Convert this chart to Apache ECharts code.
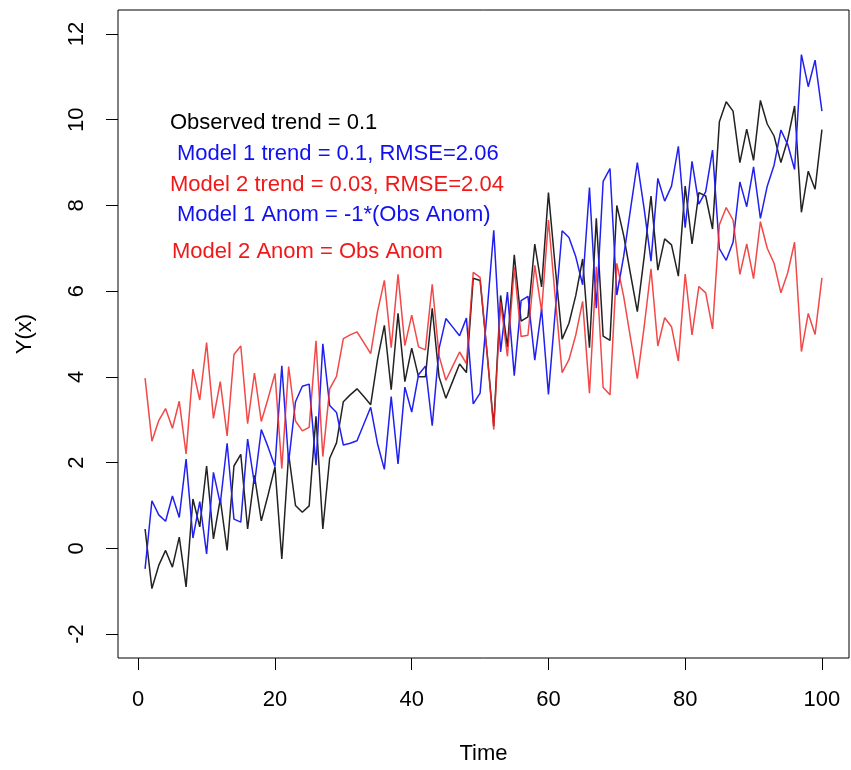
<!DOCTYPE html>
<html>
<head>
<meta charset="utf-8">
<script src="https://cdn.jsdelivr.net/npm/echarts@6/dist/echarts.min.js"></script>
<style>html,body{margin:0;padding:0;background:#fff}#c{width:851px;height:770px}</style>
</head>
<body>
<div id="c"></div>
<script>
// ---- data ----
const time = [1,2,3,4,5,6,7,8,9,10,11,12,13,14,15,16,17,18,19,20,21,22,23,24,25,26,27,28,29,30,31,32,33,34,35,36,37,38,39,40,41,42,43,44,45,46,47,48,49,50,51,52,53,54,55,56,57,58,59,60,61,62,63,64,65,66,67,68,69,70,71,72,73,74,75,76,77,78,79,80,81,82,83,84,85,86,87,88,89,90,91,92,93,94,95,96,97,98,99,100];
const observed = [0.45,-0.94,-0.4,-0.05,-0.44,0.26,-0.9,1.15,0.5,1.92, 0.22,1.15,-0.05,1.92,2.19,0.45,1.7,0.64,1.25,1.9, -0.25,2.2,1.0,0.84,0.99,3.08,0.45,2.1,2.46,3.42, 3.58,3.72,3.54,3.35,4.4,5.2,3.7,5.48,3.89,4.67, 4.0,4.0,5.6,4.0,3.5,3.9,4.3,4.1,6.3,6.25, 4.6,2.85,5.9,4.7,6.85,5.3,5.4,7.1,6.1,8.3, 6.55,4.88,5.25,5.9,6.75,4.68,7.7,4.95,4.85,8.0, 7.3,6.4,5.52,6.8,8.22,6.49,7.22,7.08,6.35,8.45, 7.1,8.3,8.22,7.45,9.95,10.42,10.2,9.0,9.78,9.05, 10.45,9.9,9.62,9.0,9.54,10.32,7.84,8.8,8.38,9.77];
const model1 = [-0.48,1.11,0.78,0.63,1.22,0.72,2.08,0.24,1.09,-0.13, 1.77,1.04,2.45,0.68,0.61,2.55,1.5,2.77,2.36,1.91, 4.26,2.01,3.42,3.78,3.83,1.94,4.77,3.33,3.17,2.41, 2.45,2.51,2.9,3.29,2.44,1.84,3.54,1.97,3.76,3.18, 4.05,4.25,2.86,4.66,5.36,5.16,4.96,5.37,3.37,3.62, 5.47,7.42,4.58,5.98,4.03,5.78,5.88,4.39,5.59,3.59, 5.54,7.41,7.25,6.8,6.15,8.42,5.6,8.56,8.86,5.91, 6.81,7.91,9.0,7.92,6.7,8.63,8.1,8.45,9.38,7.48, 9.03,8.03,8.32,9.29,6.99,6.72,7.14,8.55,7.97,8.9, 7.7,8.45,8.94,9.76,9.42,8.84,11.52,10.77,11.39,10.2];
const model2 = [3.97,2.5,2.98,3.26,2.8,3.43,2.2,4.18,3.46,4.8, 3.03,3.89,2.62,4.52,4.72,2.91,4.09,2.96,3.5,4.08, 1.86,4.24,2.97,2.74,2.82,4.84,2.14,3.72,4.01,4.89, 4.98,5.05,4.8,4.54,5.52,6.25,4.68,6.39,4.73,5.44, 4.7,4.63,6.16,4.49,3.92,4.25,4.58,4.31,6.44,6.32, 4.59,2.77,5.75,4.48,6.56,4.94,4.97,6.6,5.53,7.66, 5.84,4.1,4.4,4.98,5.76,3.62,6.57,3.75,3.58,6.65, 5.88,4.91,3.96,5.17,6.52,4.72,5.38,5.17,4.37,6.4, 4.98,6.11,5.96,5.12,7.55,7.95,7.66,6.39,7.1,6.29, 7.62,7.0,6.65,5.96,6.43,7.14,4.59,5.48,4.99,6.31];
const xTicks = [0,20,40,60,80,100];
const yTicks = [-2,0,2,4,6,8,10,12];
const notes = ['Observed trend = 0.1','Model 1 trend = 0.1, RMSE=2.06','Model 2 trend = 0.03, RMSE=2.04','Model 1 Anom = -1*(Obs Anom)','Model 2 Anom = Obs Anom'];

// ---- chart ----
const FONT = 'Liberation Sans, Arial, sans-serif';
const chart = echarts.init(document.getElementById('c'), null, {renderer:'canvas', width:851, height:770});
const pair = arr => arr.map((v,i)=>[time[i], v]);
const noteColors = ['#000000','#1010F0','#F01818','#1010F0','#F01818'];
const noteX = [170,177,170,177,172];
const noteY = [123,154,185,215,252];
chart.setOption({
  animation:false,
  backgroundColor:'#ffffff',
  grid:{left:118, top:10, width:731, height:651, show:true, borderColor:'#000', borderWidth:1, containLabel:false},
  xAxis:{type:'value', min:-2.96, max:103.96, position:'bottom',
    name:'Time', nameLocation:'middle', nameGap:85,
    nameTextStyle:{fontSize:22, color:'#000', fontFamily:FONT},
    axisLine:{show:false, onZero:false}, splitLine:{show:false},
    axisTick:{show:true, inside:false, length:12, customValues:xTicks, lineStyle:{color:'#000'}},
    axisLabel:{customValues:xTicks, fontSize:22, margin:31, color:'#000', fontFamily:FONT}},
  yAxis:{type:'value', min:-2.56, max:12.56, position:'left',
    name:'Y(x)', nameLocation:'middle', nameGap:82, nameRotate:90,
    nameTextStyle:{fontSize:22, color:'#000', fontFamily:FONT},
    axisLine:{show:false, onZero:false}, splitLine:{show:false},
    axisTick:{show:true, inside:false, length:12, customValues:yTicks, lineStyle:{color:'#000'}},
    axisLabel:{customValues:yTicks, fontSize:22, margin:30, rotate:90, color:'#000', fontFamily:FONT}},
  series:[
    {type:'line', name:'Observed', data:pair(observed), showSymbol:false, lineStyle:{color:'#222222', width:1.5}, itemStyle:{color:'#222'}},
    {type:'line', name:'Model 1', data:pair(model1), showSymbol:false, lineStyle:{color:'#2020F0', width:1.5}, itemStyle:{color:'#2020F0'}},
    {type:'line', name:'Model 2', data:pair(model2), showSymbol:false, lineStyle:{color:'#F02828', width:1.5, opacity:0.85}, itemStyle:{color:'#F02828'}}
  ],
  graphic: notes.map((t,i)=>({type:'text', x:noteX[i], y:noteY[i], style:{text:t, fill:noteColors[i], fontSize:22, fontFamily:FONT, verticalAlign:'middle', align:'left'}}))
});
</script>
</body>
</html>
